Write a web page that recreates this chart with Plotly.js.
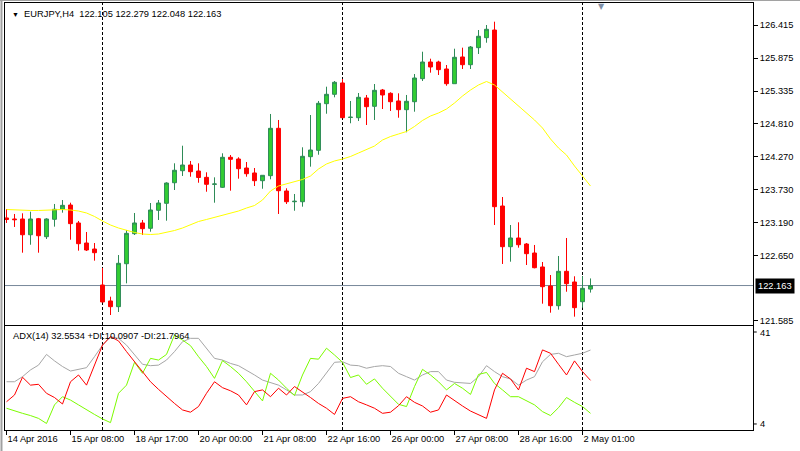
<!DOCTYPE html>
<html>
<head>
<meta charset="utf-8">
<script src="https://cdn.plot.ly/plotly-3.0.1.min.js"></script>
<style>
html,body{margin:0;padding:0;background:#ffffff;}
#chart{width:800px;height:451px;}
</style>
</head>
<body>
<div id="chart"></div>
<script>
// ---------- data ----------
const symbolLabel = 'EURJPY,H4';
const lastBar = {open: 122.105, high: 122.279, low: 122.048, close: 122.163};

const openP = [123.266,123.249,123.249,122.992,123.254,122.960,123.244,123.407,123.477,123.184,
  122.857,122.759,122.172,121.911,121.818,122.519,123.009,123.184,123.097,123.391,
  123.505,123.841,124.037,124.130,124.032,123.929,123.815,123.766,124.256,124.228,
  124.081,124.000,123.874,123.956,124.729,123.706,123.531,123.531,124.266,124.370,
  125.131,125.284,125.469,124.906,124.902,125.224,125.088,125.354,125.300,125.175,
  125.033,125.163,125.539,125.811,125.811,125.697,125.457,125.893,125.767,126.045,
  126.208,126.333,123.461,122.797,122.939,122.841,122.694,122.466,122.156,121.834,
  122.395,122.221,121.899,122.105];
const highP = [123.412,123.331,123.342,123.368,123.266,123.261,123.494,123.559,123.515,123.217,
  123.037,122.857,122.449,121.981,122.661,123.069,123.347,123.233,123.510,123.559,
  123.848,124.158,124.445,124.196,124.158,124.011,123.929,124.321,124.293,124.256,
  124.179,124.081,123.962,124.963,124.865,123.750,123.657,124.419,124.946,125.175,
  125.408,125.501,125.534,125.175,125.305,125.273,125.452,125.371,125.317,125.300,
  125.273,125.615,125.979,125.865,125.832,125.762,126.028,126.045,126.072,126.333,
  126.415,126.469,123.608,123.151,123.195,122.857,122.825,122.547,122.335,122.645,
  122.939,122.314,122.319,122.279];
const lowP = [123.184,123.119,122.699,122.829,122.699,122.922,123.124,123.352,122.911,122.732,
  122.727,122.569,121.890,121.682,121.731,122.199,122.988,122.988,123.042,123.233,
  123.221,123.722,123.951,123.939,123.841,123.694,123.515,123.755,123.711,123.907,
  123.939,123.787,123.743,123.897,123.331,123.494,123.384,123.450,124.103,124.298,
  124.967,125.235,124.897,124.811,124.848,124.783,124.865,125.044,125.012,124.902,
  124.664,125.000,125.501,125.637,125.599,125.424,125.457,125.697,125.697,125.942,
  126.126,123.151,122.515,122.552,122.781,122.498,122.444,121.867,121.720,121.769,
  122.062,121.655,121.802,122.048];
const closeP = [123.241,123.238,122.992,123.249,122.976,123.249,123.407,123.472,123.173,122.846,
  122.743,122.699,121.895,121.818,122.526,123.015,123.184,123.091,123.396,123.510,
  123.836,124.044,124.130,124.021,123.926,123.815,123.820,124.256,124.223,124.070,
  123.988,123.874,123.962,124.729,123.711,123.531,123.538,124.272,124.375,125.137,
  125.284,125.480,124.902,124.910,125.235,125.082,125.349,125.273,125.163,125.033,
  125.170,125.550,125.811,125.730,125.686,125.457,125.888,125.767,126.056,126.231,
  126.345,123.450,122.797,122.939,122.829,122.683,122.454,122.144,121.834,122.395,
  122.193,121.802,122.118,122.163];
const maLine = [123.404,123.396,123.388,123.388,123.388,123.396,123.404,123.404,123.396,123.379,
  123.347,123.290,123.216,123.151,123.102,123.061,123.029,123.004,122.996,123.004,
  123.029,123.061,123.102,123.151,123.208,123.241,123.273,123.306,123.339,123.379,
  123.428,123.469,123.559,123.706,123.787,123.820,123.853,123.894,123.951,124.065,
  124.147,124.196,124.228,124.269,124.326,124.383,124.440,124.538,124.595,124.636,
  124.677,124.759,124.857,124.930,124.979,125.044,125.142,125.256,125.354,125.436,
  125.493,125.436,125.322,125.207,125.093,124.995,124.865,124.734,124.555,124.408,
  124.293,124.114,123.951,123.787];

const adxMain = [21.3,21.3,23.1,25.5,27.2,31.0,28.7,26.7,25.1,25.8,
  26.3,30.2,34.3,37.3,36.7,34.3,30.8,27.5,27.0,27.2,
  29.0,32.0,35.5,36.7,36.7,33.2,29.6,29.0,27.8,27.0,
  25.5,23.7,21.9,21.1,20.1,18.4,16.6,16.6,17.8,20.7,
  24.3,28.2,28.4,27.2,27.0,26.1,26.7,27.0,26.7,24.3,
  23.1,21.9,23.7,24.9,24.9,21.9,21.1,20.9,20.7,23.1,
  27.0,24.9,23.1,22.3,20.1,21.9,23.1,28.4,31.0,31.4,
  30.2,30.8,31.4,32.55];
const plusDI = [11.9,10.9,10.1,9.3,8.3,6.5,13.1,16.0,14.8,13.1,
  11.3,9.7,8.1,6.8,17.2,20.1,28.2,24.3,29.6,29.0,
  31.0,37.9,36.1,34.1,30.2,26.7,22.5,28.8,26.7,24.3,
  21.3,17.8,14.5,24.3,21.9,19.0,16.4,23.7,29.6,29.3,
  33.2,30.8,28.2,22.8,23.7,20.4,22.3,19.0,16.0,13.3,
  12.5,19.6,25.7,23.7,21.3,18.4,20.7,19.0,16.8,23.9,
  24.6,20.7,18.4,16.0,16.0,14.5,13.1,10.7,9.3,12.1,
  15.7,14.0,12.5,10.09];
const minusDI = [14.2,16.6,22.9,20.1,20.4,17.2,15.7,13.4,21.3,23.7,
  20.1,27.2,34.3,37.3,35.8,32.0,28.4,24.9,21.3,18.6,
  16.0,13.6,11.3,10.5,12.5,17.2,21.3,19.2,18.1,16.6,
  13.1,17.8,18.4,16.0,19.0,16.6,19.6,17.8,15.7,13.6,
  11.9,9.7,15.4,16.0,14.2,13.1,11.9,10.1,10.5,12.8,
  16.0,14.0,12.7,10.5,11.3,16.6,14.5,12.7,10.9,9.7,
  8.3,18.4,24.3,22.3,18.4,26.1,24.9,32.6,31.4,27.5,
  23.7,28.7,24.9,21.80];
const adxLegend = 'ADX(14) 32.5534 +DI:10.0907 -DI:21.7964';
const adxScaleLabels = ['41', '4'];

const tickBars = [0, 8, 16, 24, 32, 40, 48, 56, 64, 72];
const tickLabels = ['14 Apr 2016','15 Apr 08:00','18 Apr 17:00','20 Apr 00:00','21 Apr 08:00',
  '22 Apr 16:00','26 Apr 00:00','27 Apr 08:00','28 Apr 16:00','2 May 01:00'];
const priceTicks = [126.415,125.875,125.335,124.810,124.270,123.730,123.190,122.650,121.585];
const separatorBars = [12, 42, 72];

// ---------- chart ----------
const bars = openP.map((_, i) => i);
const FONT = 'Liberation Sans, Arial, sans-serif';
const FS = 9.3;
const xRange = [-0.1875, 93.3125];

const traces = [
  {
    type: 'candlestick', x: bars, open: openP, high: highP, low: lowP, close: closeP,
    xaxis: 'x', yaxis: 'y', hoverinfo: 'skip',
    increasing: {fillcolor: '#32CD32', line: {color: '#2E8B57', width: 1}},
    decreasing: {fillcolor: '#FF0000', line: {color: '#FF0000', width: 1}},
    whiskerwidth: 0
  },
  {type: 'scatter', mode: 'lines', x: bars, y: maLine, xaxis: 'x', yaxis: 'y',
   line: {color: '#FFFF00', width: 1}, hoverinfo: 'skip'},
  {type: 'scatter', mode: 'lines', x: bars, y: adxMain, xaxis: 'x2', yaxis: 'y2',
   line: {color: '#A6A6A6', width: 1}, hoverinfo: 'skip'},
  {type: 'scatter', mode: 'lines', x: bars, y: plusDI, xaxis: 'x2', yaxis: 'y2',
   line: {color: '#7CFC00', width: 1}, hoverinfo: 'skip'},
  {type: 'scatter', mode: 'lines', x: bars, y: minusDI, xaxis: 'x2', yaxis: 'y2',
   line: {color: '#FF0000', width: 1}, hoverinfo: 'skip'}
];

const shapes = [];
separatorBars.forEach(b => shapes.push({
  type: 'line', xref: 'x', yref: 'paper', x0: b, x1: b, y0: 0, y1: 1, layer: 'below',
  line: {color: '#000000', width: 1, dash: '3px,2px'}
}));
shapes.push({type: 'line', xref: 'paper', yref: 'y', x0: 0, x1: 1,
  y0: lastBar.close, y1: lastBar.close, layer: 'below', line: {color: '#778899', width: 1}});
// window border (grey) at top and left
shapes.push({type: 'line', xref: 'paper', yref: 'paper', x0: -0.007, x1: 1.07, y0: 1.0059, y1: 1.0059,
  line: {color: '#A0A0A0', width: 1}});
shapes.push({type: 'line', xref: 'paper', yref: 'paper', x0: -0.0047, x1: -0.0047, y0: -0.05, y1: 1.0059,
  line: {color: '#A0A0A0', width: 2}});
// small ticks for the ADX scale labels
shapes.push({type: 'line', xref: 'paper', yref: 'paper', x0: 1, x1: 1.005, y0: 0.2295, y1: 0.2295,
  line: {color: '#000', width: 1}});
shapes.push({type: 'line', xref: 'paper', yref: 'paper', x0: 1, x1: 1.005, y0: 0.0141, y1: 0.0141,
  line: {color: '#000', width: 1}});

const annotations = [
  {xref: 'paper', yref: 'paper', x: 0.0067, y: 0.9742, xanchor: 'left', yanchor: 'middle', showarrow: false,
   text: '<span style="font-size:7px">▼</span>\u00A0\u00A0' + symbolLabel + '\u00A0\u00A0' +
     [lastBar.open, lastBar.high, lastBar.low, lastBar.close].map(v => v.toFixed(3)).join(' '),
   font: {family: FONT, size: FS, color: '#000'}},
  {xref: 'paper', yref: 'paper', x: 0.008, y: 0.2208, xanchor: 'left', yanchor: 'middle', showarrow: false,
   text: adxLegend, font: {family: FONT, size: FS, color: '#000'}},
  {xref: 'paper', yref: 'y', x: 1, y: lastBar.close, xanchor: 'left', yanchor: 'middle', xshift: 2,
   showarrow: false, text: lastBar.close.toFixed(3), bgcolor: '#000000', borderpad: 2,
   font: {family: FONT, size: FS, color: '#FFFFFF'}},
  {xref: 'paper', yref: 'paper', x: 1, y: 0.2272, xanchor: 'left', yanchor: 'middle', xshift: 5,
   showarrow: false, text: adxScaleLabels[0], font: {family: FONT, size: FS, color: '#000'}},
  {xref: 'paper', yref: 'paper', x: 1, y: 0.0141, xanchor: 'left', yanchor: 'middle', xshift: 5,
   showarrow: false, text: adxScaleLabels[1], font: {family: FONT, size: FS, color: '#000'}},
  {xref: 'paper', yref: 'paper', x: 0.798, y: 0.9915, xanchor: 'center', yanchor: 'middle',
   showarrow: false, text: '▼', font: {family: 'DejaVu Sans', size: 8, color: '#7F8FA6'}}
];

const layout = {
  width: 800, height: 451,
  margin: {l: 5, r: 47, t: 3, b: 21, pad: 0},
  paper_bgcolor: '#FFFFFF', plot_bgcolor: '#FFFFFF',
  showlegend: false,
  font: {family: FONT, size: FS, color: '#000'},
  xaxis: {domain: [0, 1], anchor: 'y', range: xRange, showticklabels: false, ticks: '',
    showgrid: false, zeroline: false, showline: true, mirror: true, linecolor: '#000', linewidth: 1,
    rangeslider: {visible: false}, fixedrange: true},
  xaxis2: {domain: [0, 1], anchor: 'y2', range: xRange, tickmode: 'array',
    tickvals: tickBars, ticktext: tickLabels, ticks: 'outside', ticklen: 4, tickcolor: '#000',
    ticklabelposition: 'outside right',
    tickfont: {family: FONT, size: FS, color: '#000'},
    showgrid: false, zeroline: false, showline: true, mirror: true, linecolor: '#000', linewidth: 1,
    rangeslider: {visible: false}, fixedrange: true},
  yaxis: {domain: [0.2459, 1], anchor: 'x', side: 'right', range: [121.519, 126.774],
    tickmode: 'array', tickvals: priceTicks, ticktext: priceTicks.map(v => v.toFixed(3)),
    ticks: 'outside', ticklen: 4, tickcolor: '#000',
    tickfont: {family: FONT, size: FS, color: '#000'},
    showgrid: false, zeroline: false, showline: true, mirror: true, linecolor: '#000', linewidth: 1,
    fixedrange: true},
  yaxis2: {domain: [0, 0.24356], anchor: 'x2', side: 'right', range: [4.18, 41.08],
    showticklabels: false, ticks: '',
    showgrid: false, zeroline: false, showline: true, mirror: true, linecolor: '#000', linewidth: 1,
    fixedrange: true},
  shapes: shapes,
  annotations: annotations
};

Plotly.newPlot('chart', traces, layout, {displayModeBar: false, staticPlot: true});
</script>
</body>
</html>
